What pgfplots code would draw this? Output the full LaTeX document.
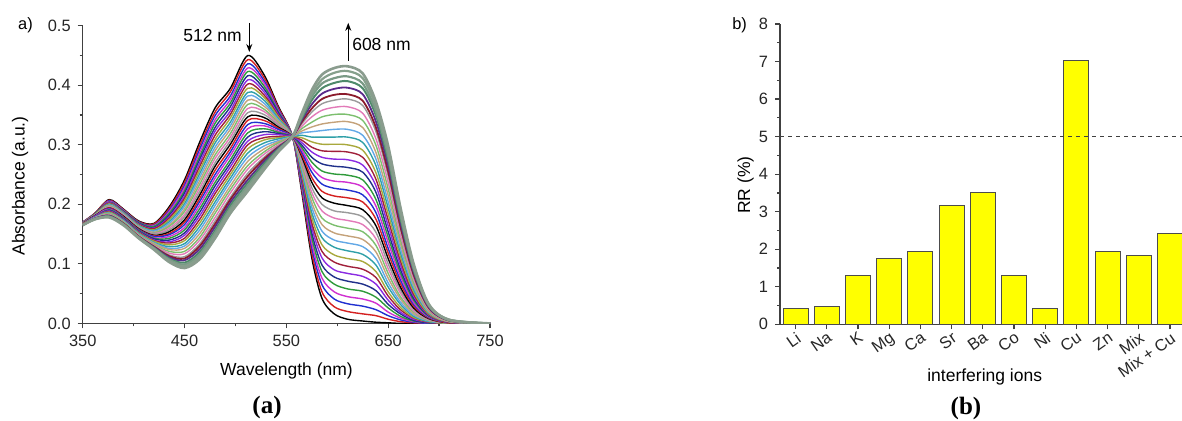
\documentclass[border=0pt]{standalone}
\usepackage{fontspec}
\setmainfont{Liberation Sans}
\newfontfamily\capfont{Liberation Serif}
\usepackage{pgfplots}
\pgfplotsset{compat=1.18}
\usepackage{pgfplotstable}
\usetikzlibrary{arrows.meta}

\definecolor{axisgray}{HTML}{404040}
\definecolor{o1}{HTML}{000000}
\definecolor{o2}{HTML}{D42020}
\definecolor{o3}{HTML}{2030D0}
\definecolor{o4}{HTML}{D030D0}
\definecolor{o5}{HTML}{2E9A3A}
\definecolor{o6}{HTML}{20308A}
\definecolor{o7}{HTML}{8A2BE2}
\definecolor{o8}{HTML}{A0203A}
\definecolor{o9}{HTML}{A8A83C}
\definecolor{o10}{HTML}{2FA0A8}
\definecolor{o11}{HTML}{62A8E6}
\definecolor{o12}{HTML}{C4A27A}
\definecolor{o13}{HTML}{7CBF6E}
\definecolor{o14}{HTML}{E27AB8}
\definecolor{o15}{HTML}{9A9A9A}
\definecolor{d1}{HTML}{8B1A2B}
\definecolor{d2}{HTML}{5A2A8A}
\definecolor{d3}{HTML}{4E8A6A}
\definecolor{d4}{HTML}{7A9A86}
\definecolor{d5}{HTML}{86A08C}
\definecolor{d6}{HTML}{8A9C8E}
\definecolor{baryellow}{HTML}{FFFF00}

\pgfplotscreateplotcyclelist{origin}{{color=o1},{color=o2},{color=o3},{color=o4},{color=o5},{color=o6},{color=o7},{color=o8},{color=o9},{color=o10},{color=o11},{color=o12},{color=o13},{color=o14},{color=o15}}

\newcommand\ticksize{\fontsize{8.2pt}{9.5pt}\selectfont}
\newcommand\labsize{\fontsize{8.75pt}{10pt}\selectfont}

% wavelength (nm), 30 intermediate spectra, 6 final spectra
\pgfplotstableread[header=false]{
350 0.170 0.170 0.170 0.170 0.169 0.169 0.169 0.169 0.169 0.169 0.168 0.168 0.168 0.168 0.168 0.168 0.168 0.167 0.167 0.167 0.167 0.167 0.167 0.167 0.166 0.166 0.166 0.166 0.166 0.166 0.166 0.165 0.165 0.165 0.165 0.165
362 0.185 0.185 0.184 0.184 0.184 0.184 0.183 0.183 0.183 0.182 0.182 0.182 0.181 0.181 0.181 0.181 0.180 0.180 0.180 0.179 0.179 0.179 0.178 0.178 0.178 0.178 0.177 0.177 0.177 0.176 0.176 0.176 0.176 0.175 0.175 0.175
376 0.208 0.207 0.206 0.205 0.204 0.203 0.203 0.202 0.201 0.200 0.199 0.198 0.197 0.196 0.195 0.194 0.194 0.193 0.192 0.191 0.190 0.189 0.188 0.187 0.186 0.185 0.185 0.184 0.183 0.182 0.181 0.181 0.180 0.179 0.179 0.178
390 0.192 0.191 0.190 0.190 0.189 0.188 0.187 0.186 0.186 0.185 0.184 0.183 0.182 0.182 0.181 0.180 0.179 0.178 0.177 0.177 0.176 0.175 0.174 0.173 0.173 0.172 0.171 0.170 0.169 0.169 0.168 0.167 0.167 0.166 0.166 0.165
405 0.172 0.171 0.170 0.169 0.169 0.168 0.167 0.166 0.165 0.164 0.163 0.162 0.162 0.161 0.160 0.159 0.158 0.157 0.156 0.156 0.155 0.154 0.153 0.152 0.151 0.150 0.149 0.149 0.148 0.147 0.146 0.145 0.145 0.144 0.144 0.143
420 0.168 0.167 0.165 0.164 0.163 0.161 0.160 0.159 0.157 0.156 0.155 0.153 0.152 0.151 0.150 0.148 0.147 0.146 0.144 0.143 0.142 0.140 0.139 0.138 0.136 0.135 0.134 0.132 0.131 0.130 0.129 0.128 0.127 0.126 0.125 0.124
435 0.196 0.193 0.190 0.188 0.185 0.182 0.179 0.177 0.174 0.171 0.168 0.165 0.163 0.160 0.157 0.154 0.151 0.149 0.146 0.143 0.140 0.137 0.135 0.132 0.129 0.126 0.124 0.121 0.118 0.115 0.113 0.111 0.109 0.107 0.105 0.103
450 0.241 0.237 0.232 0.228 0.223 0.219 0.214 0.210 0.206 0.201 0.197 0.192 0.188 0.183 0.179 0.174 0.170 0.166 0.161 0.157 0.152 0.148 0.143 0.139 0.134 0.130 0.126 0.121 0.117 0.112 0.109 0.106 0.102 0.099 0.096 0.093
465 0.305 0.299 0.293 0.287 0.281 0.276 0.270 0.264 0.258 0.252 0.246 0.240 0.234 0.228 0.222 0.216 0.210 0.205 0.199 0.193 0.187 0.181 0.175 0.169 0.163 0.157 0.151 0.145 0.140 0.134 0.130 0.125 0.120 0.116 0.112 0.108
480 0.362 0.355 0.349 0.342 0.336 0.329 0.323 0.316 0.309 0.303 0.296 0.290 0.283 0.277 0.270 0.264 0.257 0.250 0.244 0.237 0.231 0.224 0.218 0.211 0.204 0.198 0.191 0.185 0.178 0.172 0.167 0.162 0.156 0.152 0.147 0.143
495 0.395 0.389 0.382 0.376 0.370 0.364 0.357 0.351 0.345 0.338 0.332 0.326 0.319 0.313 0.307 0.301 0.294 0.288 0.282 0.275 0.269 0.263 0.256 0.250 0.244 0.238 0.231 0.225 0.219 0.212 0.208 0.203 0.198 0.193 0.189 0.185
512 0.450 0.443 0.436 0.429 0.423 0.416 0.409 0.402 0.395 0.388 0.382 0.375 0.368 0.361 0.354 0.347 0.341 0.334 0.327 0.320 0.313 0.306 0.300 0.293 0.286 0.279 0.272 0.265 0.259 0.252 0.247 0.241 0.236 0.231 0.227 0.222
528 0.418 0.413 0.408 0.404 0.399 0.394 0.389 0.384 0.380 0.375 0.370 0.365 0.360 0.356 0.351 0.346 0.341 0.336 0.332 0.327 0.322 0.317 0.312 0.308 0.303 0.298 0.293 0.288 0.284 0.279 0.276 0.272 0.268 0.264 0.261 0.258
542 0.365 0.363 0.360 0.358 0.356 0.354 0.351 0.349 0.347 0.344 0.342 0.340 0.337 0.335 0.333 0.330 0.328 0.326 0.323 0.321 0.319 0.317 0.314 0.312 0.310 0.307 0.305 0.303 0.300 0.298 0.296 0.295 0.293 0.291 0.290 0.288
556 0.314 0.314 0.314 0.314 0.314 0.314 0.314 0.314 0.314 0.314 0.314 0.314 0.314 0.314 0.314 0.314 0.314 0.314 0.314 0.314 0.314 0.314 0.314 0.314 0.314 0.314 0.314 0.314 0.314 0.314 0.314 0.314 0.314 0.314 0.314 0.314
565 0.222 0.226 0.230 0.234 0.238 0.242 0.245 0.249 0.253 0.257 0.261 0.265 0.269 0.273 0.277 0.281 0.284 0.288 0.292 0.296 0.300 0.304 0.308 0.312 0.316 0.320 0.323 0.327 0.331 0.335 0.338 0.341 0.344 0.347 0.349 0.352
575 0.110 0.118 0.127 0.135 0.144 0.152 0.161 0.169 0.178 0.186 0.195 0.203 0.212 0.220 0.228 0.237 0.245 0.254 0.262 0.271 0.279 0.288 0.296 0.305 0.313 0.322 0.330 0.338 0.347 0.355 0.361 0.368 0.375 0.381 0.386 0.392
585 0.042 0.053 0.065 0.076 0.087 0.098 0.110 0.121 0.132 0.144 0.155 0.166 0.177 0.189 0.200 0.211 0.222 0.234 0.245 0.256 0.268 0.279 0.290 0.301 0.313 0.324 0.335 0.347 0.358 0.369 0.377 0.386 0.395 0.403 0.410 0.418
597 0.016 0.028 0.041 0.053 0.066 0.078 0.090 0.103 0.115 0.128 0.140 0.152 0.165 0.177 0.189 0.202 0.214 0.227 0.239 0.251 0.264 0.276 0.289 0.301 0.313 0.326 0.338 0.351 0.363 0.375 0.384 0.394 0.404 0.412 0.421 0.429
610 0.007 0.020 0.033 0.045 0.058 0.071 0.084 0.096 0.109 0.122 0.135 0.147 0.160 0.173 0.186 0.198 0.211 0.224 0.237 0.249 0.262 0.275 0.288 0.300 0.313 0.326 0.339 0.351 0.364 0.377 0.385 0.396 0.407 0.415 0.424 0.432
625 0.004 0.016 0.029 0.041 0.054 0.066 0.079 0.091 0.104 0.116 0.129 0.141 0.154 0.166 0.179 0.191 0.204 0.216 0.229 0.241 0.254 0.266 0.279 0.291 0.304 0.316 0.329 0.341 0.353 0.366 0.374 0.385 0.395 0.403 0.412 0.420
638 0.002 0.013 0.023 0.034 0.044 0.055 0.066 0.077 0.087 0.098 0.109 0.120 0.131 0.142 0.153 0.164 0.175 0.186 0.197 0.208 0.220 0.231 0.242 0.253 0.265 0.276 0.287 0.299 0.310 0.322 0.329 0.339 0.349 0.356 0.364 0.372
650 0.001 0.007 0.013 0.019 0.026 0.032 0.039 0.046 0.053 0.061 0.068 0.076 0.084 0.092 0.100 0.109 0.118 0.126 0.136 0.145 0.154 0.164 0.174 0.184 0.194 0.204 0.215 0.226 0.237 0.248 0.255 0.265 0.274 0.282 0.290 0.298
662 0.000 0.003 0.006 0.009 0.012 0.016 0.019 0.023 0.027 0.032 0.036 0.041 0.045 0.051 0.056 0.061 0.067 0.073 0.079 0.085 0.091 0.098 0.105 0.112 0.119 0.126 0.134 0.141 0.149 0.158 0.163 0.170 0.177 0.183 0.189 0.195
675 0.000 0.001 0.002 0.003 0.004 0.005 0.007 0.009 0.010 0.012 0.014 0.016 0.019 0.021 0.024 0.026 0.029 0.032 0.035 0.039 0.042 0.046 0.049 0.053 0.057 0.061 0.065 0.069 0.074 0.079 0.082 0.086 0.090 0.093 0.097 0.100
690 0.000 0.000 0.000 0.001 0.001 0.001 0.002 0.002 0.003 0.003 0.004 0.005 0.005 0.006 0.007 0.008 0.009 0.010 0.011 0.012 0.013 0.014 0.015 0.016 0.018 0.019 0.020 0.022 0.023 0.025 0.026 0.027 0.029 0.030 0.031 0.032
710 0.000 0.000 0.000 0.000 0.000 0.000 0.000 0.000 0.000 0.001 0.001 0.001 0.001 0.001 0.001 0.001 0.001 0.002 0.002 0.002 0.002 0.002 0.002 0.003 0.003 0.003 0.003 0.004 0.004 0.005 0.005 0.005 0.005 0.006 0.006 0.006
750 0.000 0.000 0.000 0.000 0.000 0.000 0.000 0.000 0.000 0.000 0.000 0.000 0.000 0.000 0.000 0.000 0.000 0.000 0.000 0.000 0.000 0.000 0.000 0.000 0.000 0.000 0.000 0.000 0.000 0.000 0.000 0.000 0.000 0.000 0.000 0.000
}\spectra

\pgfplotsset{
  myaxis/.style={
    scale only axis,
    anchor=south west,
    axis x line*=bottom, axis y line*=left,
    tick align=outside,
    major tick length=2.5pt, minor tick length=1.5pt,
    axis line style={draw=axisgray, line width=0.6pt},
    every tick/.style={draw=axisgray, line width=0.6pt},
    tick label style={font=\ticksize, text=black!85},
    /pgf/number format/assume math mode=true,
  }
}

\begin{document}
\begin{tikzpicture}
% ---------- panel (a) ----------
\begin{axis}[myaxis,
  at={(41.35pt,48.8pt)}, width=203.65pt, height=148.8pt,
  xmin=350, xmax=750, ymin=0, ymax=0.5,
  xtick={350,450,550,650,750}, ytick={0,0.1,0.2,0.3,0.4,0.5},
  minor x tick num=1, minor y tick num=1,
  yticklabel style={/pgf/number format/.cd, fixed, fixed zerofill, precision=1},
  xticklabel style={/pgf/number format/.cd, set thousands separator={}},
  clip mode=individual,
  no markers, cycle list name=origin,
  every axis plot/.append style={smooth, line width=0.7pt},
]
\pgfplotsinvokeforeach{1,...,30}{
  \addplot table[x index=0, y index=#1] {\spectra};
}
\addplot[color=d1, line width=0.9pt] table[x index=0, y index=31] {\spectra};
\addplot[color=d2, line width=0.9pt] table[x index=0, y index=32] {\spectra};
\addplot[color=d3, line width=1.0pt] table[x index=0, y index=33] {\spectra};
\addplot[color=d4, line width=1.1pt] table[x index=0, y index=34] {\spectra};
\addplot[color=d5, line width=1.1pt] table[x index=0, y index=35] {\spectra};
\addplot[color=d6, line width=1.3pt] table[x index=0, y index=36] {\spectra};
\draw[-{Stealth[length=4pt,width=3pt]}, line width=0.6pt] (axis cs:513.6,0.505) -- (axis cs:513.6,0.456);
\draw[-{Stealth[length=4pt,width=3pt]}, line width=0.6pt] (axis cs:610.8,0.441) -- (axis cs:610.8,0.505);
\node[font=\labsize] at (axis cs:477.5,0.4835) {512 nm};
\node[font=\labsize] at (axis cs:643.4,0.4684) {608 nm};
\end{axis}

% ---------- panel (b) ----------
\begin{axis}[myaxis,
  at={(390pt,48.35pt)}, width=202.8pt, height=150.15pt,
  xmin=-0.5, xmax=12.5, ymin=0, ymax=8,
  ybar, bar width=0.8,
  xtick={0,1,2,3,4,5,6,7,8,9,10,11,12},
  xticklabels={Li,Na,K,Mg,Ca,Sr,Ba,Co,Ni,Cu,Zn,Mix,Mix + Cu},
  xticklabel style={rotate=35, anchor=north east, inner sep=0.5pt},
  ytick={0,1,2,3,4,5,6,7,8}, minor y tick num=1,
  clip=false,
]
\addplot[fill=baryellow, draw=black!70, line width=0.5pt] coordinates {
  (0,0.43) (1,0.47) (2,1.31) (3,1.75) (4,1.93) (5,3.16) (6,3.52)
  (7,1.31) (8,0.43) (9,7.04) (10,1.93) (11,1.84) (12,2.41)};
\draw[axisgray, line width=0.6pt, dash pattern=on 2pt off 2pt] (axis cs:-0.5,5) -- (axis cs:12.5,5);
\end{axis}

% ---------- labels ----------
\node[font=\ticksize, anchor=east] at (19.9pt,198pt) {a)};
\node[font=\ticksize, anchor=east] at (377pt,198pt) {b)};
\node[font=\labsize, rotate=90] at (10pt,117.5pt) {Absorbance (a.u.)};
\node[font=\labsize, rotate=90] at (372.75pt,118pt) {RR (\%)};
\node[font=\labsize] at (143.25pt,25.1pt) {Wavelength (nm)};
\node[font=\labsize] at (492.35pt,22.15pt) {interfering ions};
\node[font=\capfont\bfseries\fontsize{12.5pt}{14pt}\selectfont] at (133.5pt,7pt) {(a)};
\node[font=\capfont\bfseries\fontsize{12.5pt}{14pt}\selectfont] at (483pt,6.5pt) {(b)};

\pgfresetboundingbox
\path[use as bounding box] (0,0) rectangle (591pt,210.5pt);
\end{tikzpicture}
\end{document}
